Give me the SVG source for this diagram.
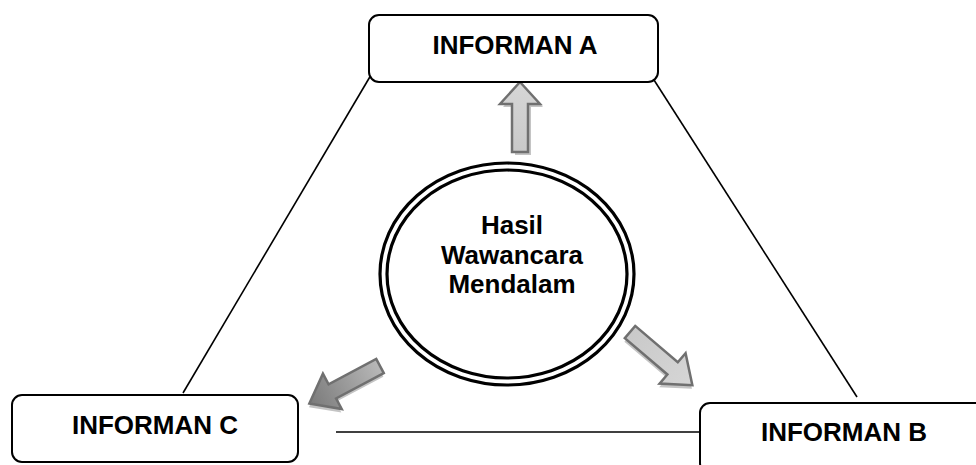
<svg xmlns="http://www.w3.org/2000/svg" width="976" height="465" viewBox="0 0 976 465">
  <defs>
    <style>
      .box { fill: #ffffff; stroke: #000000; stroke-width: 2; }
      .lbl { font-family: "Liberation Sans", Arial, sans-serif; font-weight: bold; font-size: 26px; fill: #000000; text-anchor: middle; }
      .link { stroke: #000000; stroke-width: 1.6; fill: none; }
      .ring { fill: none; stroke: #000000; stroke-width: 3.2; }
      .arrow { stroke: #707070; stroke-width: 2.5; stroke-linejoin: miter; }
      .shadow { fill: #c4c4c4; stroke: none; }
    </style>
    <linearGradient id="gLight" x1="0" y1="0" x2="1" y2="0">
      <stop offset="0" stop-color="#c9c9c9"/>
      <stop offset="1" stop-color="#d6d6d6"/>
    </linearGradient>
    <linearGradient id="gDark" x1="0" y1="0" x2="1" y2="0">
      <stop offset="0" stop-color="#b8b8b8"/>
      <stop offset="1" stop-color="#7a7a7a"/>
    </linearGradient>
    <polygon id="arrowUp" points="0,-8 48,-8 48,-20 70,0 48,20 48,8 0,8"/>
    <polygon id="arrowLong" points="0,-8 56,-8 56,-20 82,0 56,20 56,8 0,8"/>
    <polygon id="arrowMid" points="0,-8 54,-8 54,-20 80,0 54,20 54,8 0,8"/>
  </defs>

  <!-- connectors between the three informants -->
  <g id="connectors">
    <line class="link" x1="371" y1="75" x2="183" y2="393"/>
    <line class="link" x1="654" y1="80" x2="857" y2="397"/>
    <line class="link" x1="336" y1="432" x2="713" y2="432"/>
  </g>

  <!-- block arrows out of the centre -->
  <g id="arrows">
    <g transform="translate(520,152) rotate(-90)">
      <use href="#arrowUp" class="shadow" transform="translate(-3,3)"/>
      <use href="#arrowUp" class="arrow" fill="url(#gLight)"/>
    </g>
    <g transform="translate(630,332) rotate(40.5)">
      <use href="#arrowLong" class="shadow" transform="translate(2,3)"/>
      <use href="#arrowLong" class="arrow" fill="url(#gLight)"/>
    </g>
    <g transform="translate(380,366) rotate(152)">
      <use href="#arrowMid" class="shadow" transform="translate(2,-3)"/>
      <use href="#arrowMid" class="arrow" fill="url(#gDark)"/>
    </g>
  </g>

  <g id="informan-a">
    <rect class="box" x="369" y="15" width="289" height="67" rx="10"/>
    <text class="lbl" x="515" y="54">INFORMAN A</text>
  </g>

  <g id="informan-c">
    <rect class="box" x="12" y="395" width="286" height="67" rx="10"/>
    <text class="lbl" x="155" y="434">INFORMAN C</text>
  </g>

  <g id="informan-b">
    <rect class="box" x="700" y="403" width="290" height="70" rx="10"/>
    <text class="lbl" x="844" y="441">INFORMAN B</text>
  </g>

  <g id="hasil">
    <ellipse class="ring" cx="507" cy="274" rx="127" ry="111"/>
    <ellipse class="ring" cx="507" cy="274" rx="120" ry="104"/>
    <text class="lbl" x="512" y="234">Hasil</text>
    <text class="lbl" x="512" y="264">Wawancara</text>
    <text class="lbl" x="512" y="293">Mendalam</text>
  </g>
</svg>
